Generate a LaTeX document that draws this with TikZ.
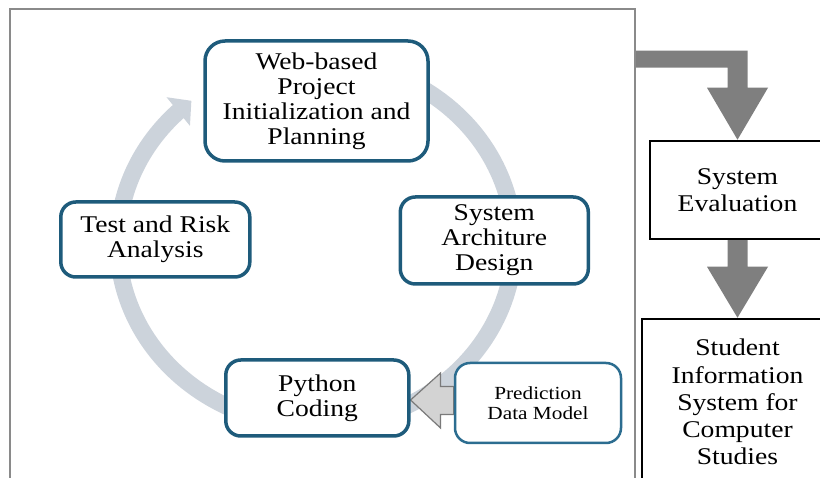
\documentclass[tikz,border=0pt]{standalone}
\usepackage{fontspec}
\setmainfont{Liberation Serif}[FakeStretch=1.15]
\usetikzlibrary{arrows.meta,bending,calc}

\definecolor{cycleline}{HTML}{1E5B7B}
\definecolor{predline}{HTML}{2C6D90}
\definecolor{ringcol}{HTML}{CCD3DB}
\definecolor{flowgray}{HTML}{7F7F7F}
\definecolor{panelgray}{HTML}{8A8A8A}
\definecolor{inputfill}{HTML}{D3D3D3}
\definecolor{inputline}{HTML}{7A7A7A}

\pgfdeclarelayer{background}
\pgfsetlayers{background,main}

\tikzset{
  panelbox/.style={draw=panelgray, line width=2pt, inner sep=0pt},
  stage/.style={draw=cycleline, line width=3.5pt, fill=white, rounded corners=15pt,
    inner sep=0pt, align=center, font=\fontsize{24}{25}\selectfont},
  inputbox/.style={draw=predline, line width=2.5pt, fill=white, rounded corners=15pt,
    inner sep=0pt, align=center, font=\fontsize{18.5}{20}\selectfont},
  outbox/.style={draw=black, line width=2.5pt, fill=white, inner sep=0pt,
    align=center, font=\fontsize{24}{27.2}\selectfont},
  ring/.style={draw=ringcol, line width=17pt,
    -{Triangle[width=36pt,length=17pt,flex]}},
  flowarrow/.style={fill=flowgray},
  inputarrow/.style={fill=inputfill, draw=inputline, line width=1.2pt, line join=miter}
}

\begin{document}
\begin{tikzpicture}[x=1pt,y=-1pt]
\useasboundingbox (0,0) rectangle (820,478);
\clip (0,0) rectangle (820,478);

% output boxes
\node[outbox, minimum width=175pt, minimum height=98pt] (eval) at (737.5,190) {System\\Evaluation};
\node[outbox, minimum width=191pt, minimum height=166pt] (sis) at (737.5,402)
  {Student\\Information\\System for\\Computer\\Studies};

% cycle stages
\node[stage, rounded corners=20pt, minimum width=223pt, minimum height=120pt] (plan) at (316.5,101)
  {Web-based\\Project\\Initialization and\\Planning};
\node[stage, minimum width=189pt, minimum height=75pt] (test) at (155.3,239.5) {Test and Risk\\Analysis};
\node[stage, minimum width=188pt, minimum height=87pt] (arch) at (494.3,240.5) {System\\Architure\\Design};
\node[stage, minimum width=183pt, minimum height=76pt] (code) at (317.3,398) {Python\\Coding};
\node[inputbox, minimum width=166pt, minimum height=80pt] (pred) at (538,403) {Prediction\\Data Model};

\begin{pgfonlayer}{background}
% left panel frame
\node[panelbox, minimum width=625pt, minimum height=482pt] (panel) at (322.5,250) {};

% development cycle ring
\coordinate (cyc) at (316,243);
\draw[ring] (cyc) ++(-60:198 and 183) arc[start angle=-60, end angle=231, x radius=198, y radius=183];

% elbow arrow from the panel to the evaluation box
\coordinate (elbow) at ($(eval.north)+(0,-89)$);
\fill[flowarrow] (panel.east |- elbow) -- ($(elbow)+(10,0)$) -- ($(eval.north)+(10,-52)$)
  -- ($(eval.north)+(30.5,-52)$) -- (eval.north) -- ($(eval.north)+(-30.5,-52)$)
  -- ($(eval.north)+(-10,-52)$) -- ($(elbow)+(-10,17)$) -- (panel.east |- {$(elbow)+(0,17)$}) -- cycle;

% arrow from evaluation to the information system
\fill[flowarrow] ($(eval.south)+(-10,0)$) -- ($(eval.south)+(10,0)$) -- ($(sis.north)+(10,-51)$)
  -- ($(sis.north)+(30.5,-51)$) -- (sis.north) -- ($(sis.north)+(-30.5,-51)$)
  -- ($(sis.north)+(-10,-51)$) -- cycle;

% input arrow from the data model into coding
\coordinate (tip) at (code.east |- 0,400);
\draw[inputarrow] (tip) -- ($(tip)+(30,-27)$) -- ($(tip)+(30,-13.5)$) -- ($(pred.west |- tip)+(0,-13.5)$)
  -- ($(pred.west |- tip)+(0,14.5)$) -- ($(tip)+(30,14.5)$) -- ($(tip)+(30,28)$) -- cycle;
\end{pgfonlayer}
\end{tikzpicture}
\end{document}
